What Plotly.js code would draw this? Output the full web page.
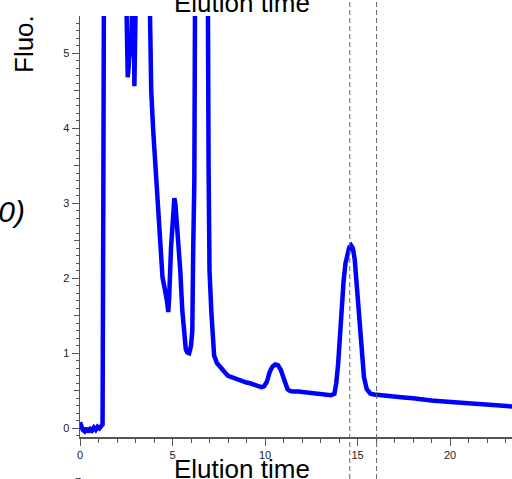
<!DOCTYPE html>
<html>
<head>
<meta charset="utf-8">
<script src="https://cdn.plot.ly/plotly-3.0.1.min.js"></script>
<style>html,body{margin:0;padding:0;background:#fff;}#chart{width:512px;height:479px;}</style>
</head>
<body>
<div id="chart"></div>
<script>
// Elution time (min) and fluorescence signal (off-scale parts clipped at top)
const elutionTime = [
  0.0, 0.05, 0.15, 0.25, 0.35, 0.45, 0.55, 0.65, 0.75, 0.85, 0.95, 1.05, 1.15, 1.22,
  1.26, 1.3,
  2.45, 2.52, 2.58, 2.64, 2.7, 2.76, 2.82, 2.88, 2.94, 3.0, 3.06,
  3.72, 3.78, 3.85, 3.95, 4.05, 4.15, 4.25, 4.37, 4.46, 4.55, 4.64, 4.7, 4.77, 4.82, 4.92, 5.0, 5.05, 5.1, 5.16, 5.2, 5.26, 5.34, 5.42, 5.53, 5.64, 5.72, 5.8, 5.9, 6.0, 6.07, 6.12, 6.18, 6.23,
  6.9, 6.95, 7.0, 7.1, 7.25, 7.4, 7.55, 7.7, 7.85, 8.0, 8.2, 8.4, 8.6, 8.8, 9.0, 9.2, 9.4, 9.6, 9.8, 9.95,
  10.1, 10.25, 10.4, 10.55, 10.7, 10.85, 11.0, 11.1, 11.22, 11.35, 11.5, 11.8, 12.1, 12.4, 12.7, 13.0, 13.3, 13.55, 13.75,
  13.85, 13.95, 14.05, 14.15, 14.25, 14.35, 14.45, 14.55, 14.65, 14.75, 14.85, 14.95, 15.05, 15.15, 15.25, 15.35, 15.5, 15.7, 15.9,
  16.2, 16.6, 17.0, 17.5, 18.0, 18.5, 19.0, 19.5, 20.0, 20.5, 21.0, 21.5, 22.0, 22.5, 23.0, 23.4
];
const fluo = [
  0.08, 0.03, -0.02, -0.04, 0.0, -0.05, -0.01, -0.03, 0.01, -0.02, 0.02, 0.0, 0.03, 0.05,
  3.0, 6.5,
  6.5, 5.3, 4.68, 4.85, 5.15, 4.95, 5.5, 6.5, 4.56, 5.2, 6.5,
  6.5, 5.2, 4.5, 4.0, 3.6, 3.27, 2.87, 2.37, 2.01, 1.9, 1.8, 1.7, 1.55, 1.75, 2.41, 2.85, 3.02, 3.07, 2.98, 2.85, 2.5, 2.3, 2.1, 1.57, 1.13, 1.05, 1.01, 1.0, 1.1, 1.3, 2.4, 3.3, 6.5,
  6.5, 3.5, 2.1, 1.55, 0.97, 0.87, 0.82, 0.78, 0.74, 0.7, 0.68, 0.66, 0.64, 0.62, 0.61, 0.6, 0.58, 0.57, 0.55, 0.56,
  0.62, 0.75, 0.82, 0.85, 0.84, 0.78, 0.66, 0.57, 0.52, 0.5, 0.49, 0.49, 0.48, 0.48, 0.47, 0.46, 0.45, 0.44, 0.46,
  0.6, 0.85, 1.3, 1.7, 1.97, 2.2, 2.33, 2.41, 2.44, 2.4, 2.25, 1.95, 1.6, 1.2, 0.9, 0.68, 0.52, 0.46, 0.45,
  0.44, 0.43, 0.42, 0.41, 0.4, 0.38, 0.37, 0.36, 0.35, 0.34, 0.33, 0.33, 0.32, 0.31, 0.3, 0.29
];
const markerTimes = [14.58, 16.03];
const yTickVals = [0, 1, 2, 3, 4, 5];
const yTickText = ['0', '1', '2', '3', '4', '5'];
const yMidTicks = [0.5, 1.5, 2.5, 3.5, 4.5, 5.5];
const xTickVals = [0, 5, 10, 15, 20];
const xTickText = ['0', '5', '10', '15', '20'];

const W = 512, H = 479, L = 80, T = 16, B = 42;
const pw = W - L, ph = H - T - B;
const px = v => (v - L) / pw;
const py = v => (H - B - v) / ph;

const axisColor = '#555';
const font = 'Liberation Sans, Arial, sans-serif';

const trace = {
  x: elutionTime, y: fluo, type: 'scatter', mode: 'lines',
  line: {color: '#0000ff', width: 4.5}, hoverinfo: 'skip', showlegend: false
};
const midTickTrace = {x: [0], y: [0], xaxis: 'x', yaxis: 'y2', mode: 'markers',
  marker: {opacity: 0}, showlegend: false, hoverinfo: 'skip'};

const yrange = [-0.116, 5.497];
const layout = {
  width: W, height: H,
  margin: {l: L, r: 0, t: T, b: B, pad: 0},
  paper_bgcolor: '#fff', plot_bgcolor: '#fff',
  showlegend: false,
  font: {family: font, color: '#222'},
  xaxis: {
    range: [0, 23.35], showgrid: false, zeroline: false,
    showline: true, linecolor: axisColor, linewidth: 1.5,
    ticks: 'outside', ticklen: 7, tickwidth: 1, tickcolor: axisColor,
    tickvals: xTickVals, ticktext: xTickText,
    tickfont: {size: 11, color: '#222', family: font},
    minor: {dtick: 1, ticks: 'outside', ticklen: 4, tickwidth: 1, tickcolor: axisColor, showgrid: false}
  },
  yaxis: {
    range: yrange, showgrid: false, zeroline: false,
    showline: true, linecolor: axisColor, linewidth: 1.5,
    ticks: 'outside', ticklen: 7, tickwidth: 1, tickcolor: axisColor,
    tickvals: yTickVals, ticktext: yTickText,
    tickfont: {size: 11, color: '#222', family: font},
    minor: {dtick: 0.1, tick0: 0, ticks: 'outside', ticklen: 3, tickwidth: 1, tickcolor: axisColor, showgrid: false}
  },
  yaxis2: {
    overlaying: 'y', anchor: 'x', side: 'left', range: yrange,
    showgrid: false, zeroline: false, showline: false,
    ticks: 'outside', ticklen: 5, tickwidth: 1, tickcolor: axisColor,
    tickvals: yMidTicks, showticklabels: false
  },
  shapes: markerTimes.map(t => ({
    type: 'line', xref: 'x', yref: 'paper', x0: t, x1: t, y0: py(H), y1: py(0),
    line: {color: '#666', width: 1, dash: '5px,3px'}, layer: 'above'
  })),
  annotations: [
    {text: 'Elution time', xref: 'paper', yref: 'paper', x: px(242), y: py(469), xanchor: 'center', yanchor: 'middle',
     showarrow: false, font: {size: 26, color: '#000', family: font}},
    {text: 'Elution time', xref: 'paper', yref: 'paper', x: px(242), y: py(2.5), xanchor: 'center', yanchor: 'middle',
     showarrow: false, font: {size: 26, color: '#000', family: font}},
    {text: 'Fluo.', xref: 'paper', yref: 'paper', x: px(24), y: py(44), xanchor: 'center', yanchor: 'middle',
     textangle: -90, showarrow: false, font: {size: 26, color: '#000', family: font}},
    {text: '<i>(×10)</i>', xref: 'paper', yref: 'paper', x: px(27), y: py(211), xanchor: 'right', yanchor: 'middle',
     showarrow: false, font: {size: 30, color: '#000', family: font}},
    {text: '7', xref: 'paper', yref: 'paper', x: px(78), y: py(482), xanchor: 'center', yanchor: 'middle',
     showarrow: false, font: {size: 11, color: '#222', family: font}}
  ]
};

Plotly.newPlot('chart', [trace, midTickTrace], layout, {staticPlot: true, displayModeBar: false});
</script>
</body>
</html>
